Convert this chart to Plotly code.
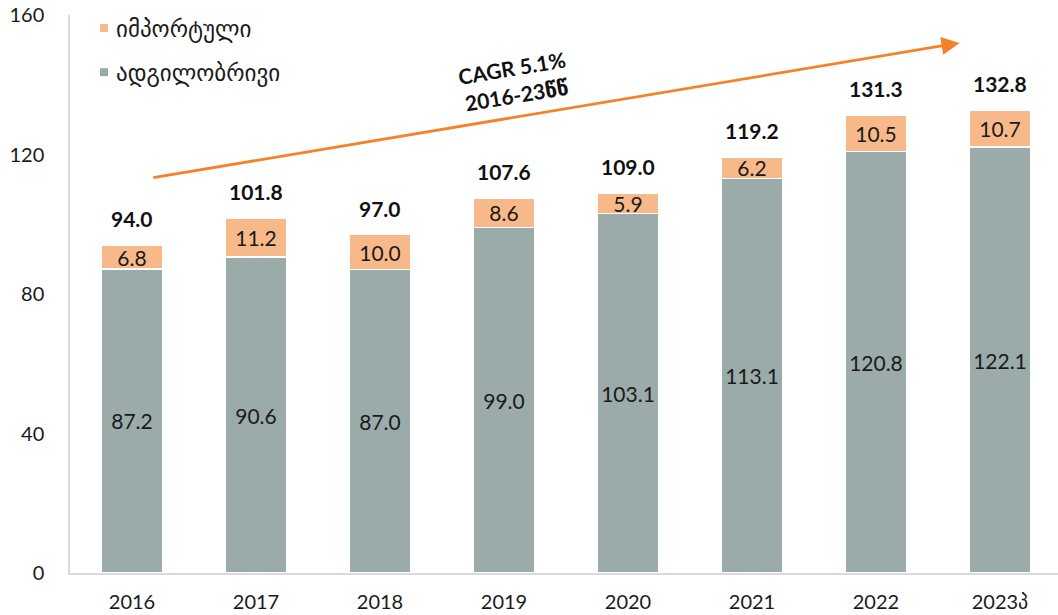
import plotly.graph_objects as go

years = ["2016", "2017", "2018", "2019", "2020", "2021", "2022", "2023პ"]
local = [87.2, 90.6, 87.0, 99.0, 103.1, 113.1, 120.8, 122.1]
imported = [6.8, 11.2, 10.0, 8.6, 5.9, 6.2, 10.5, 10.7]
totals = [94.0, 101.8, 97.0, 107.6, 109.0, 119.2, 131.3, 132.8]
name_imported = "იმპორტული"
name_local = "ადგილობრივი"
cagr_text = "CAGR 5.1%<br>2016-23წწ"

GREY = "#9aabaa"
PEACH = "#f8b98a"
ORANGE = "#f5822a"
FONT = "Lato, DejaVu Sans, sans-serif"
TXT = "#1a1a1a"

fig = go.Figure()
fig.add_trace(go.Bar(
    x=years, y=local, name=name_local, marker=dict(color=GREY, line=dict(color="white", width=1.5)),
    text=[f"{v:.1f}" for v in local], textposition="inside", insidetextanchor="middle",
    constraintext="none", textangle=0,
    textfont=dict(family=FONT, size=21, color=TXT), width=0.49, showlegend=False,
))
fig.add_trace(go.Bar(
    x=years, y=imported, name=name_imported, marker=dict(color=PEACH, line=dict(color="white", width=1.5)),
    text=[f"{v:.1f}" for v in imported], textposition="inside", insidetextanchor="middle",
    constraintext="none", textangle=0,
    textfont=dict(family=FONT, size=21, color=TXT), width=0.49, showlegend=False,
))

for i, t in enumerate(totals):
    fig.add_annotation(x=i, y=t, xref="x", yref="y", text=f"<b>{t:.1f}</b>", showarrow=False,
                       yanchor="bottom", yshift=12, font=dict(family=FONT, size=21, color="#111"))

# CAGR arrow
fig.add_annotation(x=6.675, y=152.0, ax=0.16, ay=113.3, xref="x", yref="y", axref="x", ayref="y",
                   text="", showarrow=True, arrowhead=2, arrowsize=1.3, arrowwidth=2.8, arrowcolor=ORANGE)
fig.add_annotation(x=3.08, y=141.0, xref="x", yref="y", text=f"<b>{cagr_text}</b>", showarrow=False,
                   textangle=-9.5, font=dict(family=FONT, size=21, color="#111"))

# manual legend
for yp, col, nm in [(0.9767, PEACH, name_imported), (0.8975, GREY, name_local)]:
    fig.add_shape(type="rect", xref="paper", yref="paper", xsizemode="pixel", ysizemode="pixel",
                  xanchor=0.0344, yanchor=yp, x0=-4, x1=4, y0=-4, y1=4, fillcolor=col, line_width=0)
    fig.add_annotation(xref="paper", yref="paper", x=0.0344, y=yp, xshift=10, text=nm, showarrow=False,
                       xanchor="left", yanchor="middle", font=dict(family=FONT, size=23, color=TXT))

fig.update_layout(
    barmode="stack", width=1058, height=615, plot_bgcolor="white", paper_bgcolor="white",
    margin=dict(l=70, r=0, t=15, b=42), showlegend=False,
    font=dict(family=FONT, size=20, color=TXT),
)
fig.update_xaxes(range=[-0.5, 7.468], showline=True, linecolor="#d9d9d9", linewidth=1.5,
                 ticks="", showgrid=False, tickfont=dict(family=FONT, size=20, color=TXT), ticklabelstandoff=10)
fig.update_yaxes(range=[0, 160], tickvals=[0, 40, 80, 120, 160], showline=True, linecolor="#d9d9d9",
                 linewidth=1.5, showgrid=False, zeroline=False, ticks="",
                 tickfont=dict(family=FONT, size=20, color=TXT), ticklabelstandoff=20)

fig.write_html("out.html", config={"displayModeBar": False},
               post_script="document.body.style.margin='0';document.body.style.padding='0';")
